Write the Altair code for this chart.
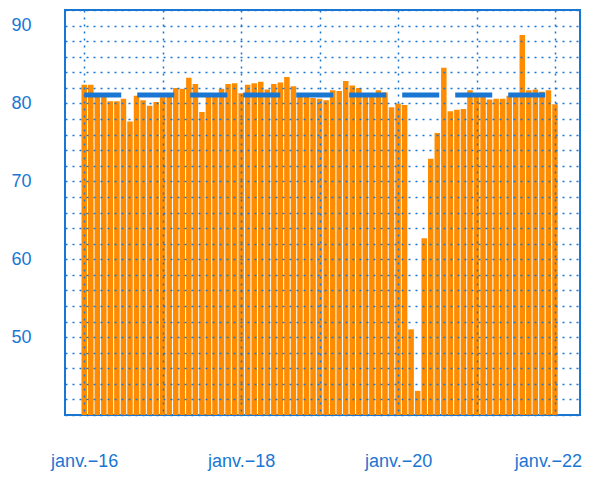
import altair as alt
import pandas as pd

START_YEAR = 2016  # first bar = janv. 2016, one bar per month
VALUES = [
    82.4, 82.4, 81.0, 81.0, 80.3, 80.3, 80.6, 77.7, 81.0, 80.4, 79.7, 80.2,
    80.8, 81.0, 82.0, 81.9, 83.3, 82.5, 78.9, 81.0, 81.0, 81.9, 82.5, 82.6,
    81.3, 82.4, 82.6, 82.8, 81.8, 82.5, 82.7, 83.4, 82.2, 81.0, 81.0, 80.7,
    80.6, 80.4, 81.7, 81.6, 82.9, 82.3, 82.0, 81.0, 81.0, 81.7, 81.4, 79.5,
    80.0, 79.8, 51.0, 43.1, 62.7, 72.9, 76.2, 84.6, 79.0, 79.2, 79.3, 81.7,
    81.0, 81.0, 80.5, 80.6, 80.6, 81.0, 81.0, 88.8, 81.7, 81.8, 81.5, 81.7,
    79.9,
]
REF_LEVEL = 81.1
REF_START, REF_END = 2016, 2022
X_TICK_YEARS = [2016, 2017, 2018, 2019, 2020, 2021, 2022]
Y_TICKS = list(range(40, 93, 2))

BLUE = "#1976D2"
ORANGE = "#FF8C00"
FONT = "Liberation Sans"

df = pd.DataFrame({
    "t": [START_YEAR + i / 12 for i in range(len(VALUES))],
    "v": VALUES,
})
ref = pd.DataFrame({"x": [REF_START], "x2": [REF_END], "y": [REF_LEVEL]})

xscale = alt.Scale(domain=[2015.755, 2022.319], nice=False, zero=False, padding=0)
yscale = alt.Scale(domain=[40, 92], nice=False, zero=False, padding=0)

xaxis = alt.Axis(
    values=X_TICK_YEARS, tickCount=len(X_TICK_YEARS),
    labelExpr="datum.value % 2 == 0 ? 'janv.\u2212' + substring(toString(datum.value), 2, 4) : ''",
    grid=True, gridDash=[2, 5], gridColor=BLUE, gridWidth=1.5, gridOpacity=1,
    domain=False, ticks=False, labelPadding=37, labelFontSize=18,
    labelColor=BLUE, labelFont=FONT, labelFlush=False, labelOverlap=False,
    labelBaseline="top", title=None, zindex=1,
    labelOffset={"condition": {"test": "datum.value == 2022", "value": -7}, "value": 0},
)
yaxis = alt.Axis(
    values=Y_TICKS, tickCount=len(Y_TICKS),
    labelExpr="datum.value % 10 == 0 && datum.value >= 50 ? datum.value : ''",
    grid=True, gridDash=[2, 5], gridColor=BLUE, gridWidth=1.5, gridOpacity=1,
    domain=False, ticks=False, labelPadding=34, labelFontSize=18,
    labelColor=BLUE, labelFont=FONT, labelOverlap=False, labelFlush=False,
    labelAlign="right", title=None, zindex=1,
)

bars = alt.Chart(df).mark_bar(color=ORANGE, width=5.5).encode(
    x=alt.X("t:Q", scale=xscale, axis=xaxis),
    y=alt.Y("v:Q", scale=yscale, axis=yaxis),
    y2=alt.datum(40),
)

rule = alt.Chart(ref).mark_rule(color=BLUE, strokeWidth=5, strokeDash=[37, 16]).encode(
    x=alt.X("x:Q", scale=xscale),
    x2="x2:Q",
    y=alt.Y("y:Q", scale=yscale),
)

chart = alt.layer(bars, rule).properties(
    width=515, height=405,
    autosize=alt.AutoSizeParams(type="none"),
    padding={"left": 57, "top": 2, "right": 4, "bottom": 56},
).configure_view(stroke=BLUE, strokeWidth=2)

chart.save("out.html", embed_options={"renderer": "svg", "actions": False})
